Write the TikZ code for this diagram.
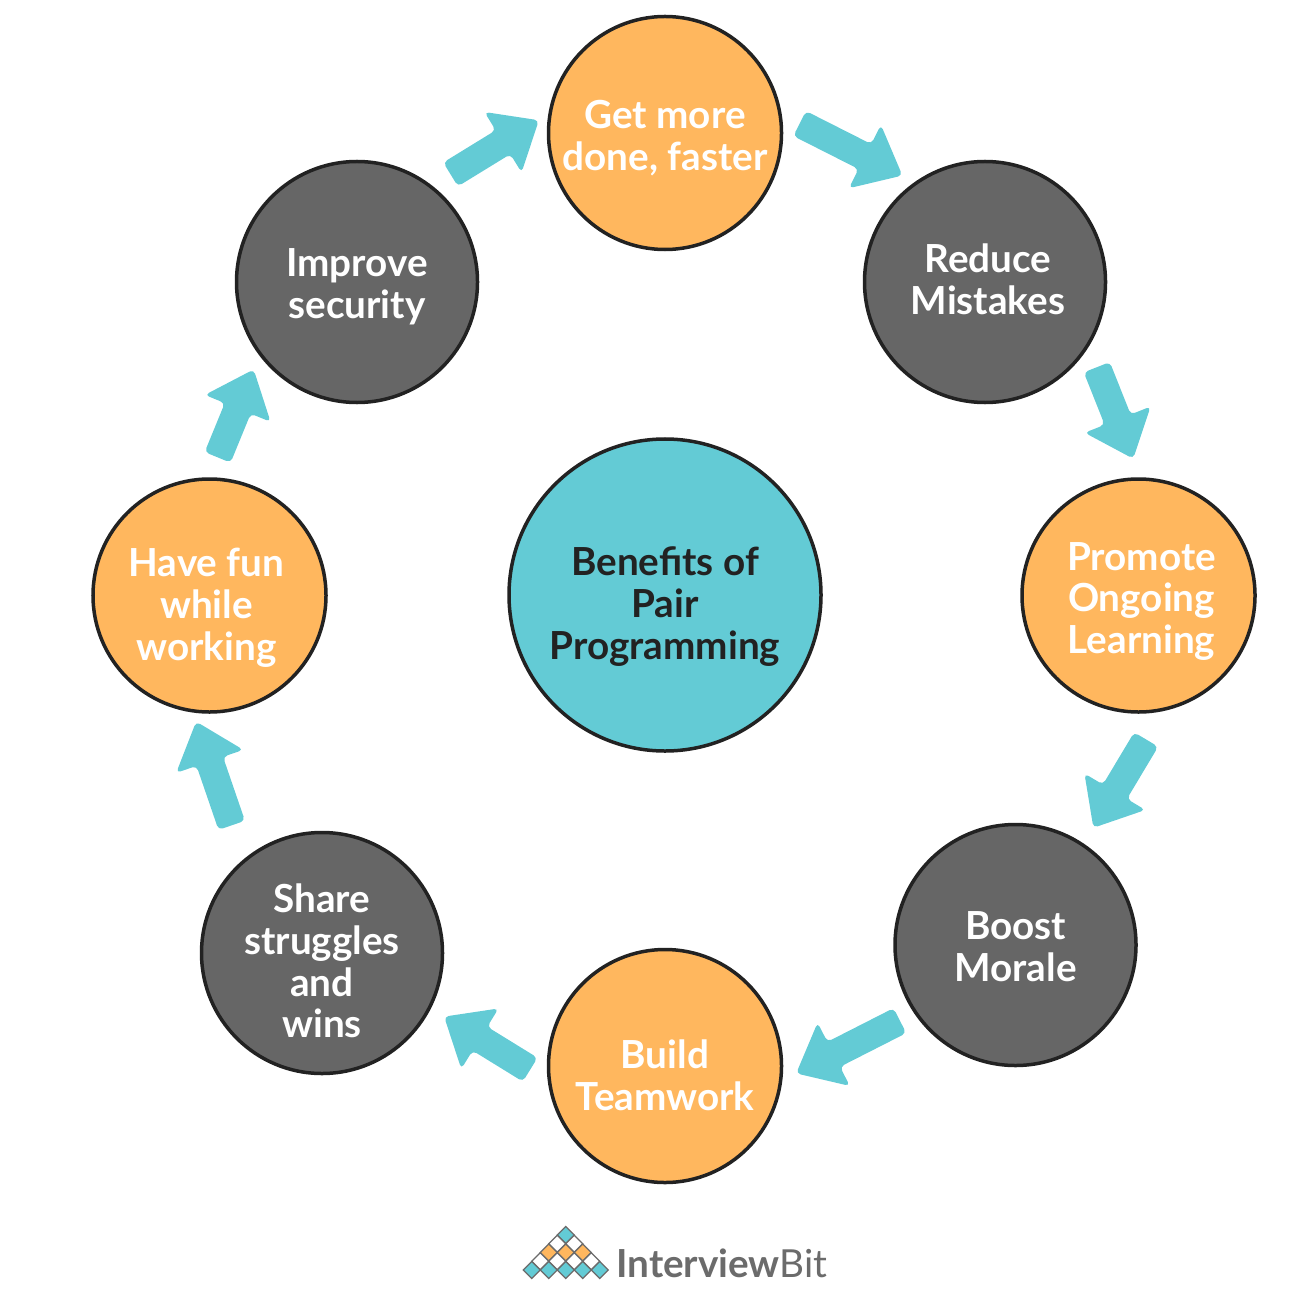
\documentclass[tikz,border=0pt]{standalone}
\usepackage{fontspec}
\setmainfont{Lato}
\usetikzlibrary{calc}
\definecolor{sunorange}{HTML}{FFB75E}
\definecolor{seateal}{HTML}{63CBD5}
\definecolor{slategrey}{HTML}{666666}
\definecolor{inkline}{HTML}{222222}
\definecolor{logogrey}{HTML}{6B6B6B}
\tikzset{
  bubble/.style={draw=inkline, line width=0.7mm, circle, align=center, inner sep=0pt},
  warm/.style={bubble, fill=sunorange, minimum size=46.6mm},
  cool/.style={bubble, fill=slategrey, minimum size=48.2mm},
  hub/.style={bubble, fill=seateal, minimum size=62.4mm},
  tag/.style={align=center, inner sep=0pt, text=white,
    font=\fontsize{22}{23.8}\selectfont\bfseries},
  hubtag/.style={tag, text=inkline},
  flow/.style 2 args={fill=seateal, rounded corners=0.9mm, to path={
    let \p1=($(\tikztostart)!#1!(\tikztotarget)$), \p2=($(\tikztotarget)!#2!(\tikztostart)$),
        \n1={atan2(\y2-\y1,\x2-\x1)}, \n2={veclen(\y2-\y1,\x2-\x1)-8.4mm}
    in (\p1) ++(\n1+90:2.8mm) -- ++(\n1:\n2) -- ++(\n1+90:4.3mm) -- (\p2)
       -- ($(\p1)+(\n1:\n2)+(\n1-90:7.1mm)$) -- ++(\n1+90:4.3mm) -- ++(\n1+180:\n2) -- cycle}},
}
\begin{document}
\begin{tikzpicture}[x=0.2mm,y=-0.2mm]
\useasboundingbox (0,0) rectangle (1312,1314);
\draw (665,595) node[hub, label={[hubtag,yshift=-2.3mm]center:{Benefits of\\Pair\\Programming}}] (benefits) {};
\draw (665,133) node[warm, label={[tag,yshift=-1mm]center:{Get more\\done, faster}}] (faster) {};
\draw (985,282) node[cool, label={[tag,xshift=.6mm,yshift=.6mm]center:{Reduce\\Mistakes}}] (mistakes) {};
\draw (1138.5,595.5) node[warm, label={[tag,xshift=.6mm,yshift=-1.2mm]center:{Promote\\Ongoing\\Learning}}] (learning) {};
\draw (1015.5,945) node[cool, label={[tag,yshift=-.4mm]center:{Boost\\Morale}}] (morale) {};
\draw (665,1066) node[warm, label={[tag,yshift=-1.8mm]center:{Build\\Teamwork}}] (teamwork) {};
\draw (322,953) node[cool, label={[tag,yshift=-1.6mm]center:{Share\\struggles\\and\\wins}}] (struggles) {};
\draw (209.5,595.5) node[warm, label={[tag,xshift=-.6mm,yshift=-2.4mm]center:{Have fun\\while\\working}}] (fun) {};
\draw (357,282) node[cool, label={[tag,yshift=-1mm]center:{Improve\\security}}] (security) {};
\path [flow={4mm}{2.8mm}] (faster.9) to (mistakes.125);
\path [flow={4.4mm}{4mm}] (mistakes.-32) to (learning.89);
\path [flow={6.6mm}{3.7mm}] (learning.-78) to (morale.56);
\path [flow={3.2mm}{3.1mm}] (morale.-146) to (teamwork.-7);
\path [flow={4.1mm}{3.1mm}] (teamwork.-173) to (struggles.-27);
\path [flow={7.2mm}{1.9mm}] (struggles.130) to (fun.-98);
\path [flow={4.3mm}{3mm}] (fun.90) to (security.-143);
\path [flow={4.3mm}{2.2mm}] (security.52) to (faster.171);
% logo
\foreach \row/\col in {0/seateal,1/white,2/sunorange,3/white,4/seateal} {
  \foreach \k in {0,...,\row} {
    \draw [draw=logogrey, line width=0.25mm, fill=\col]
      ({565.7-8.5*\row+17*\k},{1235+8.75*\row-8.5}) -- ++(8.5,8.5) -- ++(-8.5,8.5) -- ++(-8.5,-8.5) -- cycle;
  }
}
\draw (722,1263) node[text=logogrey, font=\fontsize{22}{26}\selectfont] (brand) {\textbf{Interview}Bit};
\end{tikzpicture}
\end{document}
